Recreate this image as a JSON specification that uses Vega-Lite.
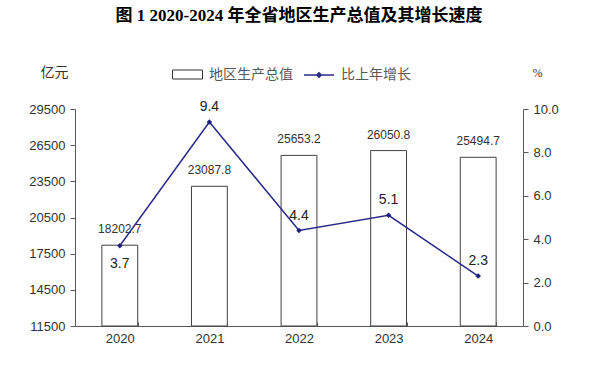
{
  "$schema": "https://vega.github.io/schema/vega-lite/v6.json",
  "width": 448,
  "height": 217,
  "autosize": {"type": "none"},
  "padding": {"left": 75, "top": 109, "right": 77, "bottom": 42},
  "background": "white",
  "title": {
    "text": "图 1  2020-2024 年全省地区生产总值及其增长速度",
    "font": "Liberation Serif, Noto Sans CJK SC",
    "fontSize": 17,
    "fontWeight": "bold",
    "color": "#000000",
    "anchor": "middle",
    "offset": 34
  },
  "config": {
    "view": {"stroke": null},
    "axis": {
      "labelFont": "Liberation Sans",
      "labelFontSize": 13,
      "labelColor": "#333333",
      "domainColor": "#595959",
      "tickColor": "#595959",
      "labelOverlap": false,
      "grid": false
    }
  },
  "data": {
    "values": [
      {"year": "2020", "gdp": 18202.7, "growth": 3.7},
      {"year": "2021", "gdp": 23087.8, "growth": 9.4},
      {"year": "2022", "gdp": 25653.2, "growth": 4.4},
      {"year": "2023", "gdp": 26050.8, "growth": 5.1},
      {"year": "2024", "gdp": 25494.7, "growth": 2.3}
    ]
  },
  "encoding": {
    "x": {
      "field": "year",
      "type": "ordinal",
      "scale": {"paddingInner": 0.6, "paddingOuter": 0.3},
      "axis": {
        "title": null,
        "labelAngle": 0,
        "labelPadding": 10,
        "tickBand": "extent",
        "tickSize": -4,
        "labelFontSize": 13
      }
    }
  },
  "layer": [
    {
      "encoding": {
        "y": {
          "field": "gdp",
          "type": "quantitative",
          "scale": {"domain": [11500, 29500], "zero": false, "nice": false},
          "axis": {
            "values": [11500, 14500, 17500, 20500, 23500, 26500, 29500],
            "format": "d",
            "labelOverlap": false,
            "tickSize": 5,
            "labelPadding": 5,
            "title": "亿元",
            "titleAngle": 0,
            "titleX": -21,
            "titleY": -37,
            "titleAlign": "center",
            "titleBaseline": "middle",
            "titleFont": "Noto Sans CJK SC",
            "titleFontSize": 14,
            "titleFontWeight": "normal",
            "titleColor": "#333333"
          }
        }
      },
      "layer": [
        {
          "mark": {"type": "bar", "stroke": "#404040", "strokeWidth": 1},
          "encoding": {
            "y2": {"datum": 11500},
            "fill": {
              "datum": "地区生产总值",
              "type": "nominal",
              "scale": {"range": ["white"]},
              "legend": {
                "title": null,
                "orient": "none",
                "legendX": 97,
                "legendY": -50,
                "symbolType": "M-1,-0.3H1V0.3H-1Z",
                "symbolSize": 900,
                "symbolStrokeColor": "#333333",
                "symbolStrokeWidth": 1,
                "symbolFillColor": "white",
                "labelOffset": 6,
                "labelFont": "Noto Sans CJK SC",
                "labelFontSize": 14,
                "labelColor": "#595959"
              }
            }
          }
        },
        {
          "mark": {"type": "text", "baseline": "middle", "dy": -16, "font": "Liberation Sans", "fontSize": 12, "color": "#333333"},
          "encoding": {
            "text": {"field": "gdp", "type": "quantitative", "format": ".1f"}
          }
        }
      ]
    },
    {
      "encoding": {
        "y": {
          "field": "growth",
          "type": "quantitative",
          "scale": {"domain": [0, 10], "nice": false},
          "axis": {
            "orient": "right",
            "values": [0, 2, 4, 6, 8, 10],
            "format": ".1f",
            "labelOverlap": false,
            "tickSize": 5,
            "labelPadding": 5,
            "title": "%",
            "titleAngle": 0,
            "titleX": 14,
            "titleY": -37,
            "titleAlign": "center",
            "titleBaseline": "middle",
            "titleFont": "Liberation Serif",
            "titleFontSize": 12,
            "titleFontWeight": "normal",
            "titleColor": "#333333"
          }
        }
      },
      "layer": [
        {
          "mark": {"type": "line", "strokeWidth": 1.5},
          "encoding": {
            "stroke": {
              "datum": "比上年增长",
              "type": "nominal",
              "scale": {"range": ["#2A2A8C"]},
              "legend": {
                "title": null,
                "orient": "none",
                "legendX": 228,
                "legendY": -50,
                "symbolType": "M-1,0H1M-0.15,0L0,-0.15L0.15,0L0,0.15Z",
                "symbolSize": 900,
                "symbolStrokeWidth": 1.5,
                "symbolFillColor": "#1F1F80",
                "labelOffset": 6,
                "labelFont": "Noto Sans CJK SC",
                "labelFontSize": 14,
                "labelColor": "#595959"
              }
            }
          }
        },
        {
          "mark": {"type": "point", "shape": "diamond", "filled": true, "size": 30, "color": "#1F1F80", "opacity": 1},
          "encoding": {}
        },
        {
          "transform": [{"filter": "datum.year != '2020'"}],
          "mark": {"type": "text", "baseline": "middle", "dy": -15, "font": "Liberation Sans", "fontSize": 14, "color": "#222222"},
          "encoding": {
            "text": {"field": "growth", "type": "quantitative", "format": ".1f"}
          }
        },
        {
          "transform": [{"filter": "datum.year == '2020'"}],
          "mark": {"type": "text", "baseline": "middle", "dy": 18, "font": "Liberation Sans", "fontSize": 14, "color": "#222222"},
          "encoding": {
            "text": {"field": "growth", "type": "quantitative", "format": ".1f"}
          }
        }
      ]
    }
  ],
  "resolve": {"scale": {"y": "independent"}}
}
